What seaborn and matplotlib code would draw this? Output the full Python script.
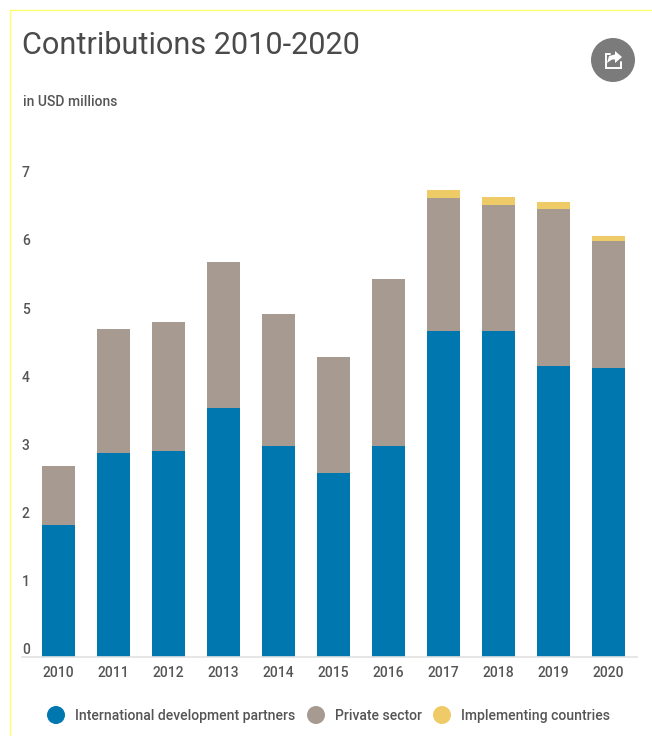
import numpy as np
import pandas as pd
import matplotlib
matplotlib.use("Agg")
import matplotlib.pyplot as plt
from matplotlib.lines import Line2D
from matplotlib.patches import Ellipse, Polygon
from matplotlib.transforms import offset_copy
import seaborn as sns

years = [2010, 2011, 2012, 2013, 2014, 2015, 2016, 2017, 2018, 2019, 2020]
development_partners = [1.94, 3.00, 3.03, 3.66, 3.10, 2.71, 3.10, 4.79, 4.79, 4.28, 4.25]
private_sector = [0.87, 1.82, 1.90, 2.15, 1.94, 1.70, 2.45, 1.95, 1.85, 2.31, 1.87]
implementing_countries = [0, 0, 0, 0, 0, 0, 0, 0.12, 0.12, 0.09, 0.07]
series_names = ["International development partners", "Private sector", "Implementing countries"]
series_colors = ["#0077AF", "#A79B91", "#EFCB68"]
y_ticks = [0, 1, 2, 3, 4, 5, 6, 7]

W, H = 652, 736
TEXT = "#555555"

sns.set_theme(style="white")
plt.rcParams["font.family"] = ["Roboto", "DejaVu Sans"]

fig = plt.figure(figsize=(W / 100, H / 100), dpi=100, facecolor="white")


def px(x, y):
    """Pixel position from the top-left corner, in figure fractions."""
    return x / W, 1 - y / H


ax = fig.add_axes([22 / W, 1 - 657.3 / H, 615 / W, 507.3 / H])

frame = pd.DataFrame({
    "year": [str(y) for y in years],
    "a": development_partners,
    "b": private_sector,
    "c": implementing_countries,
})
frame["ab"] = frame["a"] + frame["b"]
frame["abc"] = frame["ab"] + frame["c"]

# Stack by painting the running totals back to front
for column, color in zip(["abc", "ab", "a"], series_colors[::-1]):
    sns.barplot(data=frame, x="year", y=column, color=color, saturation=1,
                width=0.6, ax=ax, linewidth=0)

ax.set_xlim(-0.664, 10.518)
ax.set_ylim(0, 507.3 / 68.1)
ax.set_xlabel("")
ax.set_ylabel("")
ax.set_yticks(y_ticks)
ax.grid(False)
for name in ["top", "right", "left"]:
    ax.spines[name].set_visible(False)
ax.spines["bottom"].set_color("#E2E2E2")
ax.spines["bottom"].set_linewidth(1.2)
ax.tick_params(axis="both", length=0)
ax.tick_params(axis="x", pad=6.5, labelsize=10, labelcolor=TEXT)
ax.tick_params(axis="y", pad=0, labelsize=10, labelcolor=TEXT)

# Value labels sit just above their tick level, flush with the left edge
lift = offset_copy(ax.get_yaxis_transform(), fig=fig, x=0, y=7.3, units="dots")
ax.set_yticklabels([])
for value in y_ticks:
    ax.text(0, value, str(value), transform=lift, ha="left", va="center",
            fontsize=10, color=TEXT, fontweight="medium")
for label in ax.get_xticklabels():
    label.set_fontweight("medium")

# Panel edge lines
edge = "#FFFF70"
fig.add_artist(Line2D([10 / W, 1], [1 - 9.5 / H] * 2, color=edge, lw=1))
fig.add_artist(Line2D([10 / W] * 2, [0, 1 - 9.5 / H], color=edge, lw=1))

# Heading
fig.text(*px(22.5, 45), "Contributions 2010-2020", fontsize=22.1, color="#4A4A4A",
         fontweight="normal", va="center", ha="left")
fig.text(*px(23, 102), "in USD millions", fontsize=10, color=TEXT,
         fontweight="medium", va="center", ha="left")

# Legend row
for cx, text_x, name, color in zip([56, 316, 442], [75, 335, 461], series_names, series_colors):
    fig.add_artist(Ellipse(px(cx, 715), 18 / W, 18 / H, transform=fig.transFigure,
                           facecolor=color, edgecolor="none"))
    fig.text(*px(text_x, 716), name, fontsize=10.1, color=TEXT, fontweight="medium",
             va="center", ha="left")

# Share button
fig.add_artist(Ellipse(px(613, 60), 44 / W, 44 / H, transform=fig.transFigure,
                       facecolor="#7B7B7B", edgecolor="none"))
box_x = [610, 606, 606, 621, 621]
box_y = [54, 54, 68, 68, 62]
fig.add_artist(Line2D([x / W for x in box_x], [1 - y / H for y in box_y],
                      color="white", lw=1.4, solid_joinstyle="miter"))
arrow = [(622, 57), (615, 51), (615, 54.5), (609, 56), (607, 63), (612, 59.5), (615, 59.5), (615, 63)]
fig.add_artist(Polygon([px(x, y) for x, y in arrow], closed=True, transform=fig.transFigure,
                       facecolor="white", edgecolor="none"))

fig.savefig("out.png", dpi=100, facecolor="white")
